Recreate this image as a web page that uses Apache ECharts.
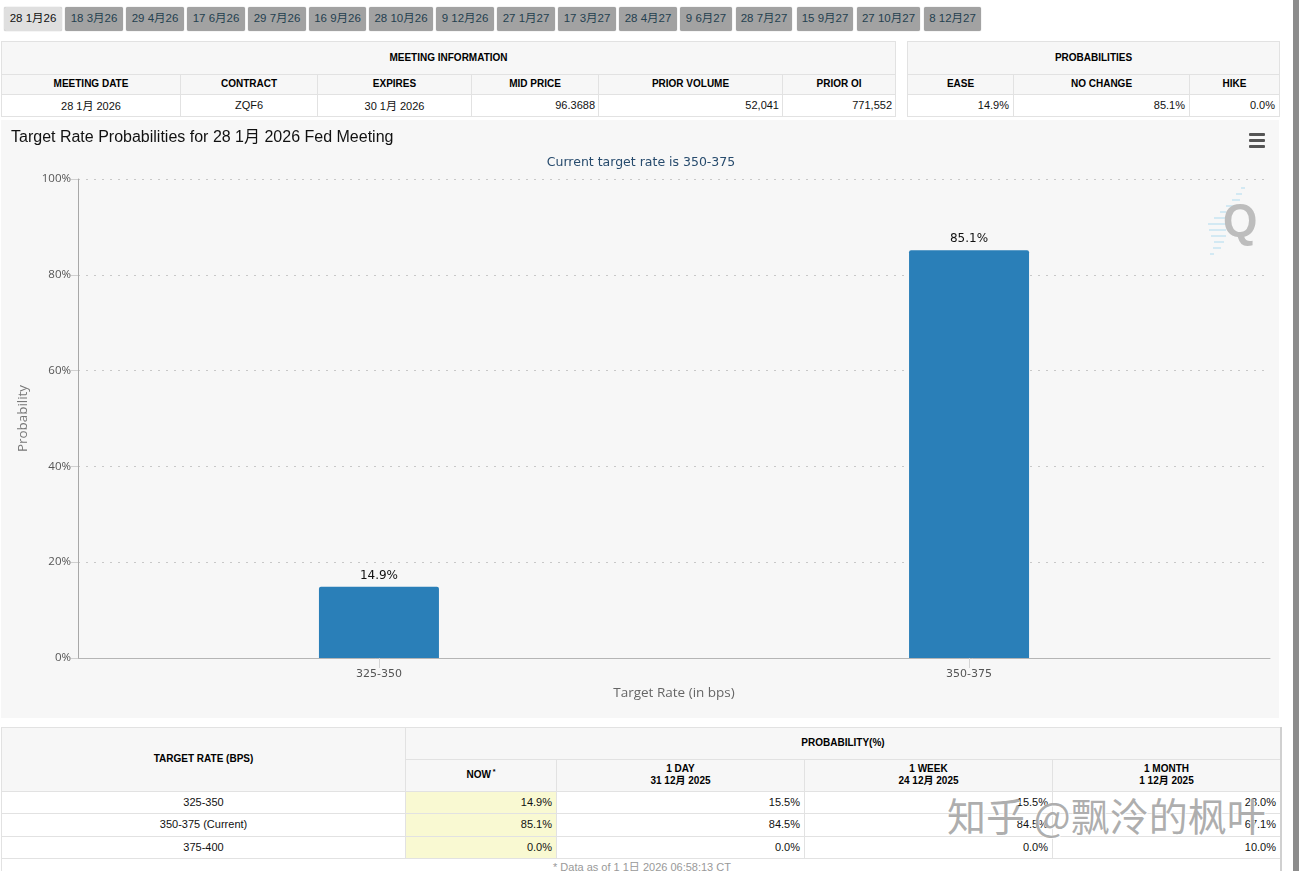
<!DOCTYPE html>
<html>
<head>
<meta charset="utf-8">
<script src="https://cdn.jsdelivr.net/npm/echarts@6/dist/echarts.min.js"></script>
<style>
html,body{margin:0;padding:0;background:#fff;width:1299px;height:871px;overflow:hidden;}
body{font-family:"Liberation Sans","Noto Sans CJK SC",sans-serif;position:relative;}
.tab{position:absolute;top:7px;height:24px;line-height:23px;text-align:center;font-size:11.5px;color:#24404f;background:#a2a2a2;border-radius:2px;box-shadow:0 0 1px #999;white-space:nowrap;}
.tab.on{background:#dfdfdf;color:#111;}
.c{position:absolute;box-sizing:border-box;border:1px solid #e2e2e2;font-size:11px;color:#111;display:flex;align-items:center;justify-content:center;text-align:center;white-space:nowrap;background:#fff;}
.c span{position:relative;top:-1px;}
.h{background:#f7f7f7;font-weight:bold;font-size:10px;color:#000;line-height:12px;}
.h span{top:-0.5px;}
.r{justify-content:flex-end;padding-right:3px;}
.r4{padding-right:4px;}
.y{background:#f9f9d2;}
#chart{position:absolute;left:1px;top:120px;width:1278px;height:598px;}
#bar{position:absolute;left:1293px;top:0;width:6px;height:871px;background:#8c8c8c;}
#note{position:absolute;left:1px;top:858px;width:1280px;text-align:center;font-size:11px;color:#999;border-left:1px solid #e2e2e2;}
#edge{position:absolute;left:1280px;top:727px;width:2px;height:144px;background:#d0d0d0;}
#wm{position:absolute;left:947px;top:787px;font-family:"Noto Sans CJK SC",sans-serif;font-size:39px;line-height:54px;color:rgba(160,160,160,.85);text-shadow:1px 1px 0 rgba(255,255,255,.8),-1px 0 0 rgba(255,255,255,.5);white-space:nowrap;}
</style>
</head>
<body>
<div id="tabs"></div>
<div id="tables"></div>
<div id="chart"></div>
<div id="note">* Data as of 1 1日 2026 06:58:13 CT</div>
<div id="edge"></div>
<div id="wm">知乎 @飘泠的枫叶</div>
<div id="bar"></div>
<script>
// ---- data ----
const meetingTabs = ['28 1月26','18 3月26','29 4月26','17 6月26','29 7月26','16 9月26','28 10月26','9 12月26','27 1月27','17 3月27','28 4月27','9 6月27','28 7月27','15 9月27','27 10月27','8 12月27'];
const meetingHeaders = ['MEETING DATE','CONTRACT','EXPIRES','MID PRICE','PRIOR VOLUME','PRIOR OI'];
const meetingValues = ['28 1月 2026','ZQF6','30 1月 2026','96.3688','52,041','771,552'];
const probHeaders = ['EASE','NO CHANGE','HIKE'];
const probValues = ['14.9%','85.1%','0.0%'];
const rateCategories = ['325-350','350-375'];
const rateProbabilities = [14.9, 85.1];
const tableRates = ['325-350','350-375 (Current)','375-400'];
const nowValues = ['14.9%','85.1%','0.0%'];
const dayValues = ['15.5%','84.5%','0.0%'];
const weekValues = ['15.5%','84.5%','0.0%'];
const monthValues = ['23.0%','67.1%','10.0%'];

// ---- page layout (HTML tables around the chart) ----
const tabX = [[4,62],[65,123],[126,184],[187,245],[248,306],[309,366],[369,433],[436,494],[497,555],[558,616],[619,677],[680,732],[736,792],[797,853],[857,920],[924,981]];
document.getElementById('tabs').innerHTML = meetingTabs.map((t,i)=>
  `<div class="tab${i===0?' on':''}" style="left:${tabX[i][0]}px;width:${tabX[i][1]-tabX[i][0]}px">${t}</div>`).join('');

const out = [];
function cell(x0,x1,y0,y1,txt,cls){
  out.push(`<div class="c ${cls}" style="left:${x0}px;top:${y0}px;width:${x1-x0+1}px;height:${y1-y0+1}px"><span>${txt}</span></div>`);
}
const mx=[1,180,317,471,598,782,895];
cell(1,895,41,74,'MEETING INFORMATION','h');
meetingHeaders.forEach((t,i)=>cell(mx[i],mx[i+1],74,94,t,'h'));
meetingValues.forEach((t,i)=>cell(mx[i],mx[i+1],94,116,t,i<3?'':'r'));
const px=[907,1013,1189,1279];
cell(907,1279,41,74,'PROBABILITIES','h');
probHeaders.forEach((t,i)=>cell(px[i],px[i+1],74,94,t,'h'));
probValues.forEach((t,i)=>cell(px[i],px[i+1],94,116,t,'r r4'));
const bx=[1,405,556,804,1052,1280];
const rowsY=[791,813,836,858];
cell(1,405,727,791,'TARGET RATE (BPS)','h');
cell(405,1280,727,759,'PROBABILITY(%)','h');
cell(405,556,759,791,'NOW<sup style="font-size:7px;line-height:0;margin-left:2px">*</sup>','h');
cell(556,804,759,791,'1 DAY<br>31 12月 2025','h');
cell(804,1052,759,791,'1 WEEK<br>24 12月 2025','h');
cell(1052,1280,759,791,'1 MONTH<br>1 12月 2025','h');
tableRates.forEach((t,i)=>{
  const a=rowsY[i],b=rowsY[i+1];
  cell(bx[0],bx[1],a,b,t,'');
  cell(bx[1],bx[2],a,b,nowValues[i],'r r4 y');
  cell(bx[2],bx[3],a,b,dayValues[i],'r r4');
  cell(bx[3],bx[4],a,b,weekValues[i],'r r4');
  cell(bx[4],bx[5],a,b,monthValues[i],'r r4');
});
document.getElementById('tables').innerHTML = out.join('');

// ---- chart ----
const chart = echarts.init(document.getElementById('chart'), null, {renderer:'canvas'});
const lab = '"Open Sans","DejaVu Sans",sans-serif';
const dv = '"DejaVu Sans",sans-serif';
const qStripes = [[1241,188,1245],[1236,194,1242],[1232,200,1240],[1226,206,1234],[1220,212,1226],[1214,218,1226],[1208,224,1226],[1209,230,1226],[1211,236,1226],[1214,242,1224],[1213,248,1221],[1210,254,1214]];
chart.setOption({
  animation:false,
  backgroundColor:'#f7f7f7',
  title:[
    {text:'Target Rate Probabilities for 28 1月 2026 Fed Meeting',left:5,top:5,
     textStyle:{fontFamily:'"Liberation Sans","Noto Sans CJK SC",sans-serif',fontSize:16,fontWeight:'normal',color:'#111'}},
    {text:'Current target rate is 350-375',left:635,textAlign:'center',top:31,
     textStyle:{fontFamily:dv,fontSize:12.5,fontWeight:'normal',color:'#274b6d'}}
  ],
  grid:{left:77,top:59,width:1192,height:479,containLabel:false},
  xAxis:{
    type:'value',min:-0.51,max:1.51,
    name:'Target Rate (in bps)',nameLocation:'middle',nameGap:28,
    nameTextStyle:{fontFamily:lab,fontSize:13.5,color:'#666'},
    axisLine:{show:true,onZero:false,lineStyle:{color:'#b5b5b5',width:1}},
    axisTick:{show:true,length:10,lineStyle:{color:'#d5d5d5'},customValues:[0,1]},
    axisLabel:{customValues:[0,1],formatter:v=>rateCategories[v],fontFamily:dv,fontSize:11,color:'#555',margin:11},
    splitLine:{show:false}
  },
  yAxis:{
    type:'value',min:0,max:100,interval:20,
    name:'Probability',nameLocation:'middle',nameGap:48,
    nameTextStyle:{fontFamily:lab,fontSize:13.4,color:'#777'},
    axisLine:{show:true,onZero:false,lineStyle:{color:'#a8a8a8',width:1}},
    axisTick:{show:true,length:7,lineStyle:{color:'#d0d0d0'}},
    axisLabel:{formatter:'{value}%',fontFamily:lab,fontSize:11.5,color:'#555',margin:7},
    splitLine:{show:true,lineStyle:{color:'#c8c8c8',type:[2,6],width:1}}
  },
  series:[{
    type:'bar',barWidth:120,
    data:rateProbabilities.map((v,i)=>[i,v]),
    itemStyle:{color:'#2a7fb8',borderRadius:[2,2,0,0]},
    label:{show:true,position:'top',distance:5,formatter:p=>p.value[1].toFixed(1)+'%',fontFamily:dv,fontSize:12,color:'#111'}
  }],
  graphic:[
    {type:'rect',shape:{x:1248,y:13,width:16,height:3,r:1},style:{fill:'#555'},silent:true},
    {type:'rect',shape:{x:1248,y:19,width:16,height:3,r:1},style:{fill:'#555'},silent:true},
    {type:'rect',shape:{x:1248,y:25,width:16,height:3,r:1},style:{fill:'#555'},silent:true}
  ].concat(qStripes.map(s=>({type:'line',shape:{x1:s[0]-1,y1:s[1]-120,x2:s[2]-1,y2:s[1]-120},style:{stroke:'#d3e9f3',lineWidth:2},silent:true})))
   .concat([{type:'text',x:1222,y:80,scaleX:0.94,silent:true,style:{text:'Q',font:'bold 47px "Liberation Sans",sans-serif',fill:'#bdbdbd'}}])
});
</script>
</body>
</html>
